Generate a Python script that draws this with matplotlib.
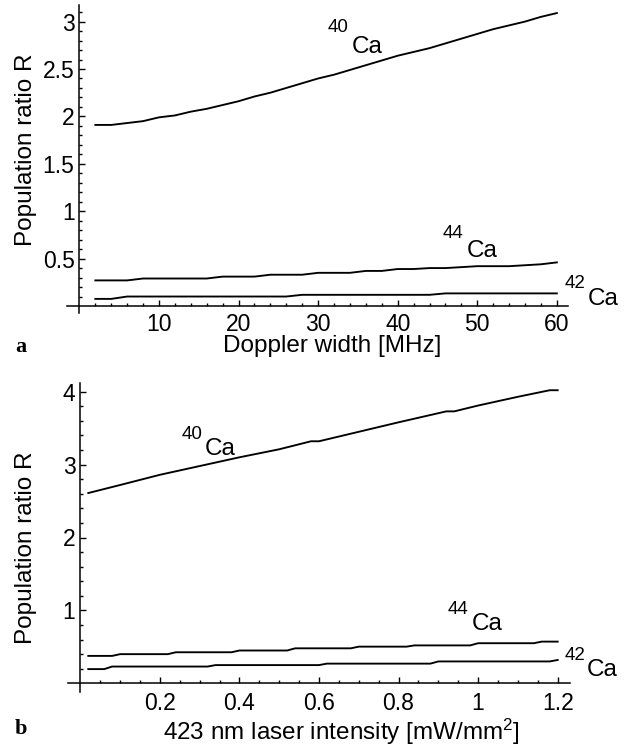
import matplotlib
matplotlib.use("Agg")
import matplotlib.pyplot as plt
import numpy as np

plt.rcParams["font.family"] = ["Liberation Sans", "DejaVu Sans"]
plt.rcParams["mathtext.fontset"] = "custom"
plt.rcParams["mathtext.rm"] = "Liberation Sans"
plt.rcParams["mathtext.it"] = "Liberation Sans:italic"

W, H = 632, 747
INK = "black"

# ---------- panel a: R vs Doppler width ----------
doppler_mhz = [2, 4, 6, 8, 10, 12, 14, 16, 18, 20, 22, 24, 26, 28, 30,
               32, 34, 36, 38, 40, 42, 44, 46, 48, 50, 52, 54, 56, 58, 60]
r40_a = [1.91, 1.91, 1.93, 1.95, 1.99, 2.01, 2.05, 2.08, 2.12, 2.16,
         2.21, 2.25, 2.30, 2.35, 2.40, 2.44, 2.49, 2.54, 2.59, 2.64,
         2.68, 2.72, 2.77, 2.82, 2.87, 2.92, 2.96, 3.00, 3.05, 3.09]
r44_a = [0.27, 0.27, 0.27, 0.29, 0.29, 0.29, 0.29, 0.29, 0.31, 0.31,
         0.31, 0.33, 0.33, 0.33, 0.35, 0.35, 0.35, 0.37, 0.37, 0.39,
         0.39, 0.40, 0.40, 0.41, 0.42, 0.42, 0.42, 0.43, 0.44, 0.46]
r42_a = [0.075, 0.075, 0.10, 0.10, 0.10, 0.10, 0.10, 0.10, 0.10, 0.10,
         0.10, 0.10, 0.10, 0.118, 0.118, 0.118, 0.118, 0.118, 0.118, 0.118,
         0.118, 0.118, 0.133, 0.133, 0.133, 0.133, 0.133, 0.133, 0.133, 0.133]

# ---------- panel b: R vs 423 nm laser intensity (mW/mm^2) ----------
int_40 = [0.02, 0.10, 0.20, 0.30, 0.40, 0.50, 0.58, 0.60, 0.70, 0.80,
          0.92, 0.94, 1.00, 1.10, 1.18, 1.20]
r40_b = [2.61, 2.72, 2.86, 2.98, 3.10, 3.21, 3.32, 3.32, 3.45, 3.58,
         3.73, 3.73, 3.81, 3.93, 4.02, 4.02]
int_44 = [0.02, 0.08, 0.10, 0.22, 0.24, 0.38, 0.40, 0.52, 0.54, 0.68,
          0.70, 0.82, 0.84, 0.98, 1.00, 1.14, 1.16, 1.20]
r44_b = [0.376, 0.376, 0.40, 0.40, 0.426, 0.426, 0.45, 0.45, 0.48, 0.48,
         0.503, 0.503, 0.52, 0.52, 0.55, 0.55, 0.572, 0.572]
int_42 = [0.02, 0.06, 0.08, 0.32, 0.34, 0.60, 0.62, 0.88, 0.90, 1.18, 1.20]
r42_b = [0.195, 0.195, 0.23, 0.23, 0.25, 0.25, 0.27, 0.27, 0.30, 0.30, 0.32]


def rect(x0, y0, x1, y1):
    # pixel box (top-left origin) -> figure fraction rect
    return [x0 / W, 1 - y1 / H, (x1 - x0) / W, (y1 - y0) / H]


def fxy(x, y):
    return x / W, 1 - y / H


def style(ax, xmaj, xlab, xmin, ymaj, ylab, ymin, xpad):
    for s in ("top", "right"):
        ax.spines[s].set_visible(False)
    for s in ("left", "bottom"):
        ax.spines[s].set_position(("data", 0))
        ax.spines[s].set_linewidth(1.1)
    ax.set_xticks(xmaj)
    ax.set_xticklabels(xlab)
    ax.set_xticks(xmin, minor=True)
    ax.set_yticks(ymaj)
    ax.set_yticklabels(ylab)
    ax.set_yticks(ymin, minor=True)
    ax.tick_params(which="both", direction="in", width=1.0, colors=INK)
    ax.tick_params(which="major", length=4.5)
    ax.tick_params(which="minor", length=2.5)
    ax.tick_params(axis="x", pad=xpad, labelsize=16.5)
    ax.tick_params(axis="y", pad=3.5, labelsize=16.5)


fig = plt.figure(figsize=(W / 100, H / 100), dpi=100)
fig.patch.set_facecolor("white")

# ---------- panel a ----------
ax1 = fig.add_axes(rect(66.7, 5, 568, 313.3))
ax1.set_facecolor("none")
for r in (r40_a, r44_a, r42_a):
    ax1.plot(doppler_mhz, r, color=INK, linewidth=1.35)
ax1.set_xlim(-1.6, 61.4)
ax1.set_ylim(-0.077, 3.175)
style(ax1,
      [10, 20, 30, 40, 50, 60], ["10", "20", "30", "40", "50", "60"],
      np.arange(2, 61, 2),
      [0.5, 1, 1.5, 2, 2.5, 3], ["0.5", "1", "1.5", "2", "2.5", "3"],
      np.arange(0.1, 3.15, 0.1), 5.0)

# ---------- panel b ----------
ax2 = fig.add_axes(rect(68, 383.3, 570, 691.7))
ax2.set_facecolor("none")
ax2.plot(int_40, r40_b, color=INK, linewidth=1.35)
ax2.plot(int_44, r44_b, color=INK, linewidth=1.35)
ax2.plot(int_42, r42_b, color=INK, linewidth=1.35)
ax2.set_xlim(-0.031, 1.231)
ax2.set_ylim(-0.115, 4.115)
style(ax2,
      [0.2, 0.4, 0.6, 0.8, 1.0, 1.2], ["0.2", "0.4", "0.6", "0.8", "1", "1.2"],
      np.arange(0.05, 1.21, 0.05),
      [1, 2, 3, 4], ["1", "2", "3", "4"],
      np.arange(0.2, 4.01, 0.2), 6.0)

# ---------- axis labels ----------
LAB = 17.5
for yc in (150, 548):
    fig.text(*fxy(31.7, yc), "Population ratio R", rotation=90,
             rotation_mode="anchor", ha="center", va="baseline", fontsize=LAB)
fig.text(*fxy(332, 351.7), "Doppler width [MHz]", ha="center",
         va="baseline", fontsize=LAB)
fig.text(*fxy(341, 739.5), "423 nm laser intensity [mW/mm$^{2}$]",
         ha="center", va="baseline", fontsize=LAB)

# panel letters
fig.text(*fxy(15, 351.7), "a", family="Liberation Serif", weight="bold",
         fontsize=16, va="baseline")
fig.text(*fxy(15, 734), "b", family="Liberation Serif", weight="bold",
         fontsize=16, va="baseline")

# ---------- isotope labels (mass number, sup x/y, "Ca" x/y in pixels) ----------
isotope_labels = [
    ("40", 328, 32.3, 352, 53.3),
    ("44", 443, 238.3, 467, 256.7),
    ("42", 565, 288.3, 588, 305),
    ("40", 182, 439, 205, 455),
    ("44", 448, 614, 472, 630),
    ("42", 565, 660, 587, 676),
]
for mass, sx, sy, cx, cy in isotope_labels:
    fig.text(*fxy(sx, sy), mass, fontsize=13.5, va="baseline", ha="left")
    fig.text(*fxy(cx, cy), "Ca", fontsize=17.5, va="baseline", ha="left")

fig.savefig("out.png", dpi=100, facecolor="white")
